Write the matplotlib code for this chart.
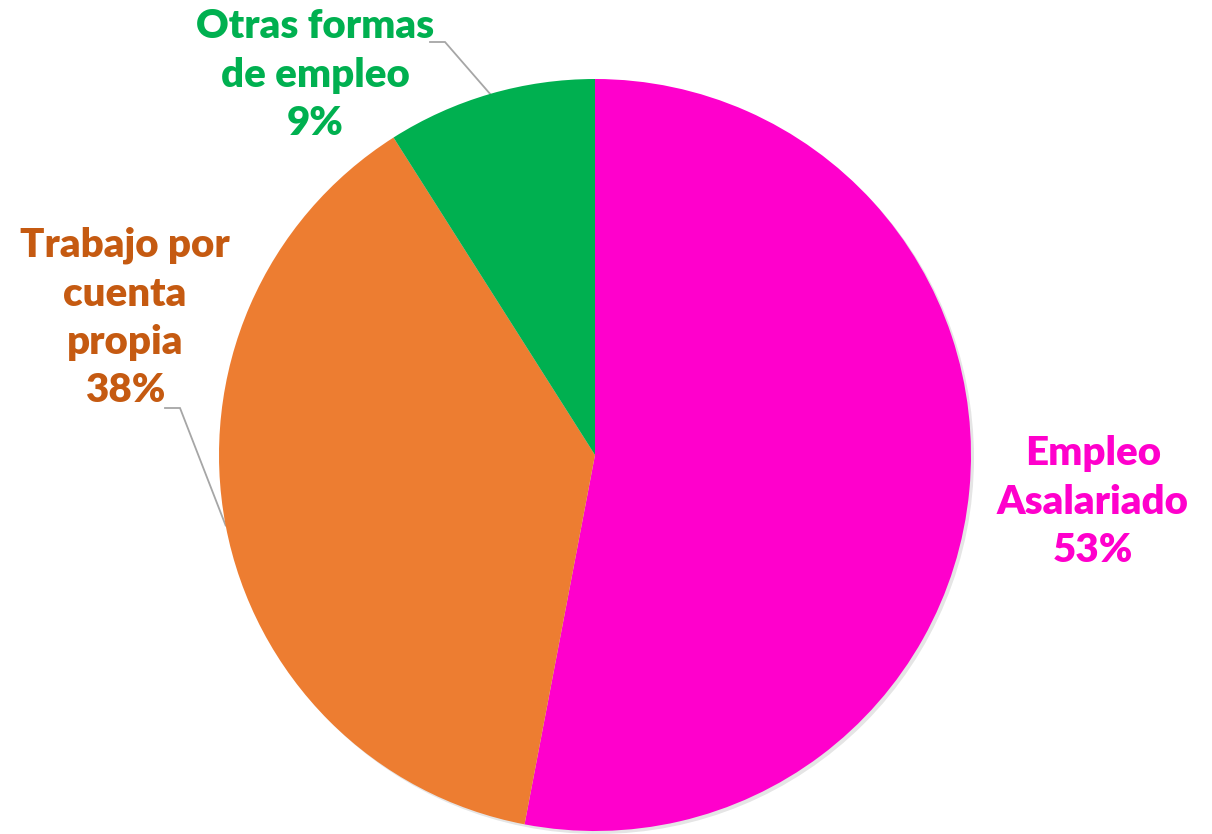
import numpy as np
import matplotlib
matplotlib.use("Agg")
import matplotlib.pyplot as plt
from matplotlib.patches import Circle

# datos
categorias = ["Empleo\nAsalariado", "Trabajo por\ncuenta\npropia", "Otras formas\nde empleo"]
valores = [53, 38, 9]
colores = ["#FF00CC", "#ED7D31", "#00B050"]
colores_texto = ["#FF00CC", "#C55A11", "#00B050"]

W, H = 1212, 834
fig = plt.figure(figsize=(W / 100, H / 100), dpi=100)
ax = fig.add_axes([0, 0, 1, 1])

cx, cy, r = 595, H - 455, 376

# sombra suave detras del pastel
sombra = Circle((cx + 3, cy - 3), r, facecolor="#000000", alpha=0.10, edgecolor="none", zorder=0)
ax.add_patch(sombra)

wedges, _ = ax.pie(valores, colors=colores, startangle=90, counterclock=False,
                   center=(cx, cy), radius=r, frame=True)

ax.set_xlim(0, W)
ax.set_ylim(0, H)
ax.set_aspect("equal")
ax.axis("off")

# posiciones de las etiquetas (pixeles desde arriba)
pos_etiquetas = [(1093, 502), (125, 318), (315, 75)]
# codos de las lineas guia (None = sin linea)
codos = [None, ((165, 408), (180, 408)), ((430, 42), (445, 42))]

for i, (w, lab) in enumerate(zip(wedges, categorias)):
    pct = "%d%%" % valores[i]
    x, y = pos_etiquetas[i]
    ax.text(x, H - y, lab + "\n" + pct, ha="center", va="center",
            fontsize=29, fontweight="heavy", family="Lato",
            color=colores_texto[i], linespacing=1.38)
    if codos[i] is not None:
        ang = np.deg2rad((w.theta1 + w.theta2) / 2)
        ex = cx + r * np.cos(ang)
        ey = cy + r * np.sin(ang)
        (x0, y0), (x1, y1) = codos[i]
        ax.plot([x0, x1, ex], [H - y0, H - y1, ey], color="#A6A6A6", lw=1.3,
                solid_joinstyle="miter", zorder=0)

fig.savefig("out.png", dpi=100, facecolor="white")
